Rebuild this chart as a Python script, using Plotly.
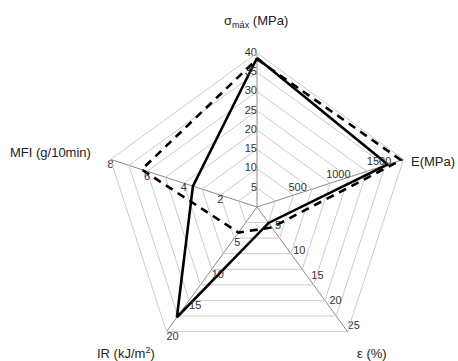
import plotly.graph_objects as go

# Axes (clockwise from top)
axes = ["σ<sub>máx</sub> (MPa)", "E(MPa)", "ε (%)", "IR (kJ/m<sup>2</sup>)", "MFI (g/10min)"]
axis_keys = ["sigma", "E", "eps", "IR", "MFI"]
axis_max = [40, 1800, 25, 20, 8]

# Tick labels for each axis
ticks_sigma = [0, 5, 10, 15, 20, 25, 30, 35, 40]
ticks_E = [0, 500, 1000, 1500]
ticks_eps = [0, 5, 10, 15, 20, 25]
ticks_IR = [0, 5, 10, 15, 20]
ticks_MFI = [0, 2, 4, 6, 8]

# Series values (sigma, E, eps, IR, MFI)
solid_vals = [38.7, 1606, 3.2, 17.7, 3.5]
dashed_vals = [38.4, 1771, 4.1, 4.1, 6.3]

n_rings = 8

def norm(vals):
    return [v / m for v, m in zip(vals, axis_max)]

fig = go.Figure()

fig.add_trace(go.Scatterpolar(
    r=norm(dashed_vals) + [norm(dashed_vals)[0]],
    theta=axis_keys + [axis_keys[0]],
    mode="lines",
    line=dict(color="black", width=2.6, dash="8px,6px"),
    hoverinfo="skip", showlegend=False,
))
fig.add_trace(go.Scatterpolar(
    r=norm(solid_vals) + [norm(solid_vals)[0]],
    theta=axis_keys + [axis_keys[0]],
    mode="lines",
    line=dict(color="black", width=2.6),
    hoverinfo="skip", showlegend=False,
))

tick_sets = [
    (ticks_sigma, "middle left"),
    (ticks_E, "top center"),
    (ticks_eps, "top right"),
    (ticks_IR, "bottom right"),
    (ticks_MFI, "bottom center"),
]
for key, mx, (tks, pos) in zip(axis_keys, axis_max, tick_sets):
    fig.add_trace(go.Scatterpolar(
        r=[t / mx for t in tks],
        theta=[key] * len(tks),
        mode="text",
        text=[str(t) for t in tks],
        textposition=pos,
        textfont=dict(family="Liberation Sans, Arial, sans-serif", size=11, color="#333"),
        cliponaxis=False,
        hoverinfo="skip", showlegend=False,
    ))

W, H = 458, 361
title_pos = [
    (256, 22, "center"),
    (409, 161, "left"),
    (372, 353, "center"),
    (126, 353, "center"),
    (50, 153, "center"),
]
annotations = []
for txt, (px, py, xa) in zip(axes, title_pos):
    annotations.append(dict(
        x=px / W, y=1 - py / H, xref="paper", yref="paper",
        text=txt, showarrow=False, xanchor=xa, yanchor="middle",
        font=dict(family="Liberation Sans, Arial, sans-serif", size=13, color="#222"),
    ))

fig.update_layout(
    width=W, height=H,
    margin=dict(l=0, r=0, t=0, b=0),
    paper_bgcolor="white",
    annotations=annotations,
    polar=dict(
        domain=dict(x=[103 / W, 411 / W], y=[0.0, 1 - 53 / H]),
        bgcolor="white",
        gridshape="linear",
        radialaxis=dict(
            range=[0, 1],
            tickvals=[i / n_rings for i in range(1, n_rings + 1)],
            showticklabels=False, ticks="",
            showline=False,
            gridcolor="#cccccc", gridwidth=1,
        ),
        angularaxis=dict(
            type="category",
            categoryarray=axis_keys,
            direction="clockwise",
            rotation=90,
            showticklabels=False, ticks="",
            showline=True, linecolor="#cccccc", linewidth=1,
            gridcolor="#8a8a8a", gridwidth=1,
        ),
    ),
)

fig.write_html("out.html")
